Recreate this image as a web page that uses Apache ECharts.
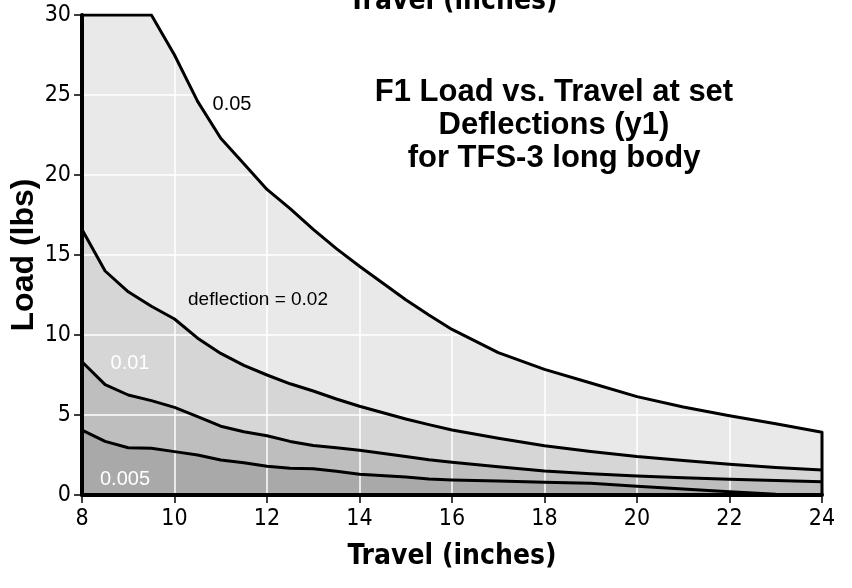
<!DOCTYPE html>
<html>
<head>
<meta charset="utf-8">
<script src="https://cdn.jsdelivr.net/npm/echarts@6/dist/echarts.min.js"></script>
<style>html,body{margin:0;padding:0;background:#fff}#c{width:852px;height:588px}</style>
</head>
<body>
<div id="c"></div>
<script>
// Travel (inches)
var travel = [8, 8.5, 9, 9.5, 10, 10.5, 11, 11.5, 12, 12.5, 13, 13.5, 14, 15, 15.5, 16, 17, 18, 19, 20, 21, 22, 23, 24];
// Load (lbs) at each deflection
var load005 = [30, 30, 30, 30, 27.5, 24.6, 22.3, 20.7, 19.1, 17.9, 16.6, 15.4, 14.3, 12.2, 11.25, 10.35, 8.9, 7.85, 7.0, 6.15, 5.5, 4.95, 4.45, 3.92];
var load002 = [16.6, 14.0, 12.7, 11.8, 11.0, 9.8, 8.85, 8.1, 7.5, 6.95, 6.5, 6.0, 5.55, 4.75, 4.4, 4.06, 3.55, 3.08, 2.72, 2.4, 2.15, 1.92, 1.72, 1.56];
var load001 = [8.33, 6.9, 6.25, 5.9, 5.48, 4.9, 4.3, 3.95, 3.7, 3.35, 3.1, 2.95, 2.8, 2.4, 2.2, 2.04, 1.77, 1.5, 1.33, 1.19, 1.08, 0.98, 0.9, 0.83];
var load0005 = [4.06, 3.35, 2.95, 2.92, 2.71, 2.5, 2.19, 2.02, 1.8, 1.67, 1.64, 1.48, 1.3, 1.12, 1.0, 0.94, 0.87, 0.8, 0.73, 0.55, 0.38, 0.21, 0.05, 0];
var seriesNames = ['0.05', '0.02', '0.01', '0.005'];
var xTicks = [8, 10, 12, 14, 16, 18, 20, 22, 24];
var yTicks = [0, 5, 10, 15, 20, 25, 30];

var fills = ['#e9e9e9', '#d6d6d6', '#bebebe', '#a9a9a9'];
var loads = [load005, load002, load001, load0005];

function pairs(arr) { return travel.map(function (t, i) { return [t, arr[i]]; }); }

var series = [];
loads.forEach(function (arr, k) {
  series.push({
    name: seriesNames[k] + ' area', type: 'line', data: pairs(arr), symbol: 'none', z: 1,
    lineStyle: { width: 0, opacity: 0 }, areaStyle: { color: fills[k], opacity: 1, origin: 'start' },
    silent: true, animation: false
  });
});
loads.forEach(function (arr, k) {
  var d = pairs(arr);
  if (k === 0) d.push([travel[travel.length - 1], 0]);
  series.push({
    name: seriesNames[k], type: 'line', data: d, symbol: 'none', z: 5,
    lineStyle: { color: '#000', width: 3, join: 'round' }, animation: false
  });
});

var axisFont = '"Liberation Sans Narrow", "DejaVu Sans Condensed", Arial, sans-serif';
var plainFont = '"Liberation Sans", Arial, sans-serif';
var chart = echarts.init(document.getElementById('c'), null, { renderer: 'canvas' });
chart.setOption({
  animation: false,
  backgroundColor: '#fff',
  grid: { left: 82, right: 30, top: 15, bottom: 93, containLabel: false, outerBoundsMode: 'none' },
  xAxis: {
    type: 'value', min: xTicks[0], max: xTicks[xTicks.length - 1], interval: 2, z: 3,
    name: 'Travel (inches)', nameLocation: 'middle', nameGap: 48, nameMoveOverlap: false,
    nameTextStyle: { fontFamily: axisFont, fontSize: 28, fontWeight: 'bold', color: '#000' },
    axisLine: { show: true, onZero: false, lineStyle: { color: '#000', width: 4 } },
    axisTick: { show: true, length: 8, lineStyle: { color: '#000', width: 1.5 } },
    axisLabel: { fontFamily: axisFont, fontSize: 23, color: '#000', margin: 13 },
    splitLine: { show: true, lineStyle: { color: '#fff', width: 1.5 } }
  },
  yAxis: {
    type: 'value', min: yTicks[0], max: yTicks[yTicks.length - 1], interval: 5, z: 3,
    name: 'Load (lbs)', nameLocation: 'middle', nameGap: 42, nameRotate: 90, nameMoveOverlap: false,
    nameTextStyle: { fontFamily: plainFont, fontSize: 32, fontWeight: 'bold', color: '#000' },
    axisLine: { show: true, onZero: false, lineStyle: { color: '#000', width: 4 } },
    axisTick: { show: true, length: 8, lineStyle: { color: '#000', width: 1.5 } },
    axisLabel: { fontFamily: axisFont, fontSize: 23, color: '#000', margin: 11 },
    splitLine: { show: true, lineStyle: { color: '#fff', width: 1.5 } }
  },
  series: series,
  graphic: [
    { type: 'text', x: 453, y: 16, z: 10, style: { text: 'Travel (inches)', fontFamily: axisFont, fontSize: 28, fontWeight: 'bold', fill: '#000', textAlign: 'center', textVerticalAlign: 'bottom' } },
    { type: 'text', x: 554, y: 125, z: 10, style: { text: 'F1 Load vs. Travel at set\nDeflections (y1)\nfor TFS-3 long body', fontFamily: plainFont, fontSize: 31, lineHeight: 33, fontWeight: 'bold', fill: '#000', textAlign: 'center', textVerticalAlign: 'middle' } },
    { type: 'text', x: 232, y: 104, z: 10, style: { text: '0.05', fontFamily: plainFont, fontSize: 20, fill: '#000', textAlign: 'center', textVerticalAlign: 'middle' } },
    { type: 'text', x: 258, y: 300, z: 10, style: { text: 'deflection = 0.02', fontFamily: plainFont, fontSize: 19, fill: '#000', textAlign: 'center', textVerticalAlign: 'middle' } },
    { type: 'text', x: 130, y: 363, z: 10, style: { text: '0.01', fontFamily: plainFont, fontSize: 20, fill: '#fff', textAlign: 'center', textVerticalAlign: 'middle' } },
    { type: 'text', x: 125, y: 479, z: 10, style: { text: '0.005', fontFamily: plainFont, fontSize: 20, fill: '#fff', textAlign: 'center', textVerticalAlign: 'middle' } }
  ]
});
</script>
</body>
</html>
